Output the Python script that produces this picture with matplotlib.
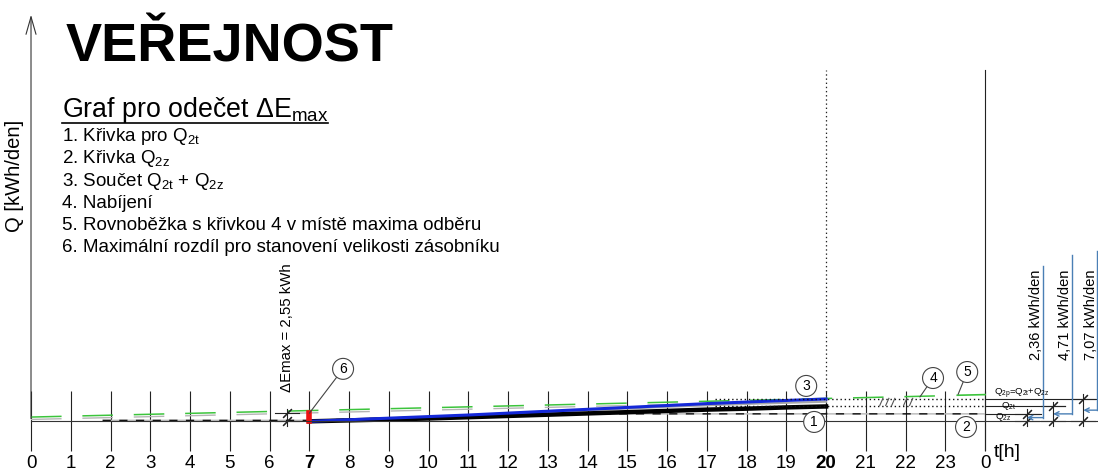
import matplotlib
matplotlib.use('Agg')
import matplotlib.pyplot as plt
from matplotlib.lines import Line2D

plt.rcParams['font.family'] = ['Liberation Sans', 'DejaVu Sans']
plt.rcParams['mathtext.fontset'] = 'custom'
plt.rcParams['mathtext.rm'] = 'Liberation Sans'
plt.rcParams['mathtext.it'] = 'Liberation Sans:italic'
plt.rcParams['mathtext.bf'] = 'Liberation Sans:bold'
plt.rcParams['lines.scale_dashes'] = False

# Hours of the day on the time axis
hours = list(range(25))
hour_labels = [str(h % 24) for h in hours]
bold_hours = [7, 20]

# Daily energy values [kWh/den]
q2z = 2.36
q2t = 4.71
q2p = 7.07          # Q2p = Q2t + Q2z
delta_e_max = 2.55
t_max = 7           # hour of maximum draw

# 1 - cumulative Q2t
c1_hours = [7, 8, 9, 10, 11, 12, 13, 14, 15, 16, 17, 18, 19, 20]
c1_q = [0, 0.3, 0.6, 0.9, 1.3, 1.7, 2.1, 2.5, 2.9, 3.3, 3.7, 4.0, 4.4, 4.71]
# 3 - sum Q2t + Q2z
c3_q = [0, 0.5, 1.0, 1.5, 2.0, 2.6, 3.2, 3.8, 4.4, 5.0, 5.6, 6.1, 6.6, 7.07]
# thin grey construction line
grey_hours = [12, 14, 16, 18, 20]
grey_q = [2.3, 3.5, 4.6, 5.5, 6.2]
# 2 - Q2z
c2_hours = [1.8, 7, 12.5, 24]
c2_q = [0.3, 0.3, 2.36, 2.36]
# 4 - charging line and its grey copy
c4_hours = [0, 22.8]
c4_q = [1.35, 8.05]
c4b_hours = [0, 17]
c4b_q = [0.6, 5.6]
# 5 - parallel to 4 at the maximum
c5_hours = [23.3, 24]
c5_q = [8.25, 8.45]

dotted_start = 17.2
hatch_hours = [21.35, 21.5, 21.65, 21.95, 22.1]

X0, X1 = -0.78, 26.84
Y0, Y1 = -15.4, 133.3
W, H = 1098, 470

fig = plt.figure(figsize=(W / 100, H / 100), dpi=100)
ax = fig.add_axes([0, 0, 1, 1])
ax.set_xlim(X0, X1)
ax.set_ylim(Y0, Y1)

for s in ['top', 'left', 'right']:
    ax.spines[s].set_visible(False)
ax.spines['bottom'].set_position(('data', 0))
ax.spines['bottom'].set_bounds(0, X1)
ax.spines['bottom'].set_linewidth(0.8)
ax.spines['bottom'].set_color('#333333')
ax.set_yticks([])
ax.set_xticks(hours)
ax.set_xticklabels(hour_labels)
ax.tick_params(axis='x', direction='inout', length=43, width=0.8,
               color='#222222', pad=2.5, labelsize=13.5)
for h, lbl in zip(hours, ax.get_xticklabels()):
    if h in bold_hours:
        lbl.set_fontweight('bold')

# axes: Q arrow, end-of-day line, dotted line at 20 h
ax.annotate('', xy=(0, 129.5), xytext=(0, 0),
            arrowprops=dict(arrowstyle='->,head_length=0.7,head_width=0.2',
                            lw=0.8, color='#333333', mutation_scale=18))
ax.plot([24, 24], [-9, 111.2], color='#222222', lw=0.8)
ax.plot([20, 20], [0, 111.2], color='#222222', lw=0.9, ls=(0, (1, 2)))

# curves
ax.plot(c4b_hours, c4b_q, color='#b5b5b5', lw=1.0, dashes=(22, 15))
ax.plot(c4_hours, c4_q, color='#3cc43c', lw=1.1, dashes=(22, 15))
ax.plot(c5_hours, c5_q, color='#3cc43c', lw=1.2)
ax.plot(c2_hours, c2_q, color='#111111', lw=1.1, dashes=(6, 6),
        gapcolor='#bdbdbd')
ax.plot(grey_hours, grey_q, color='#a8a8a8', lw=1.5)
ax.plot(c1_hours, c1_q, color='black', lw=3.2)
ax.plot(c1_hours, c3_q, color='#1428d8', lw=2.2)

# dotted level lines for Q2p and Q2t
ax.plot([dotted_start, 24], [q2p, q2p], color='#111111', lw=1.0, ls=(0, (1, 2)))
ax.plot([dotted_start, 24], [q2t, q2t], color='#111111', lw=1.0, ls=(0, (1, 2)))
for hx in hatch_hours:
    ax.plot([hx, hx + 0.08], [q2t + 0.3, q2p + 0.2], color='#555555', lw=0.8)

# maximum difference at 7 h
ax.plot([t_max, t_max], [0, delta_e_max], color='#ee1111', lw=4,
        solid_capstyle='projecting')

# dimension marks
def dimension(x, top, half=0.3):
    ax.plot([x, x], [-1.5, top + 1.5], color='#222222', lw=0.8)
    for y in (0, top):
        ax.plot([x - half, x + half], [y, y], color='#222222', lw=0.8)
        ax.plot([x], [y], marker=(2, 2, -45), ms=9, mew=0.8, color='#222222')

dimension(6.44, delta_e_max)
ax.plot([24, 25.4], [q2z, q2z], color='#222222', lw=0.8)
ax.plot([24, 26.0], [q2t, q2t], color='#222222', lw=0.8)
ax.plot([24, X1], [q2p, q2p], color='#222222', lw=0.8)
dimension(25.05, q2z)
dimension(25.71, q2t)
dimension(26.47, q2p)

# blue leaders with values
blue = '#4a7fb5'
fmt = lambda v: f'{v:.2f}'.replace('.', ',')
for xl, xd, top, v, xt in [(25.46, 25.05, 49.1, q2z, 25.28),
                           (26.19, 25.71, 52.6, q2t, 26.01),
                           (26.82, 26.47, 54.0, q2p, 26.66)]:
    ax.plot([xl, xl], [top, v / 2], color=blue, lw=1.0)
    ax.annotate('', xy=(xd, v / 2), xytext=(xl, v / 2),
                arrowprops=dict(arrowstyle='->', color=blue, lw=1.0,
                                shrinkA=0, shrinkB=0, mutation_scale=8))
    ax.text(xt, 19.4, f'{fmt(v)} kWh/den', rotation=90, ha='center',
            va='bottom', fontsize=10.5)

ax.text(6.44, 9.3, f'ΔEmax = {fmt(delta_e_max)} kWh', rotation=90,
        ha='center', va='bottom', fontsize=10.8)

# labels of the level lines
ax.text(24.22, q2p + 1.5, r'$\mathrm{Q_{2p}}$=$\mathrm{Q_{2t}}$+$\mathrm{Q_{2z}}$',
        fontsize=6.8, va='center')
ax.text(24.4, q2t + 0.2, r'$\mathrm{Q_{2t}}$', fontsize=6.8, va='center')
ax.text(24.25, q2z - 0.9, r'$\mathrm{Q_{2z}}$', fontsize=6.8, va='center')

# numbered circles
circles = [('6', (7.85, 16.6), (t_max, delta_e_max)),
           ('3', (19.5, 11.2), None),
           ('1', (19.7, -0.2), None),
           ('4', (22.69, 13.7), (22.36, 7.7)),
           ('5', (23.55, 15.6), (23.32, 8.5)),
           ('2', (23.52, -1.8), None)]
for num, pos, target in circles:
    box = dict(boxstyle='circle,pad=0.25', fc='white', ec='#444444', lw=0.8)
    if target is None:
        ax.text(*pos, num, fontsize=10, ha='center', va='center', bbox=box)
    else:
        ax.annotate(num, xy=target, xytext=pos, fontsize=10, ha='center',
                    va='center', bbox=box,
                    arrowprops=dict(arrowstyle='-', color='#444444', lw=0.8,
                                    shrinkA=0, shrinkB=0))

# texts
fig.text(66 / W, 1 - 62 / H, 'VEŘEJNOST', fontsize=39, fontweight='bold',
         va='baseline')
fig.text(62 / W, 1 - 117 / H, r'Graf pro odečet Δ$\mathrm{E_{max}}$',
         fontsize=19.3, va='baseline')
fig.add_artist(Line2D([62 / W, 328 / W], [1 - 123 / H, 1 - 123 / H],
                      color='black', lw=1.2))
items = ['1. Křivka pro $\\mathrm{Q_{2t}}$',
         '2. Křivka $\\mathrm{Q_{2z}}$',
         '3. Součet $\\mathrm{Q_{2t}}$ + $\\mathrm{Q_{2z}}$',
         '4. Nabíjení',
         '5. Rovnoběžka s křivkou 4 v místě maxima odběru',
         '6. Maximální rozdíl pro stanovení velikosti zásobníku']
for i, txt in enumerate(items):
    fig.text(62 / W, 1 - (141 + 22.3 * i) / H, txt, fontsize=13.5,
             va='baseline')

fig.text(15 / W, 1 - 176 / H, 'Q [kWh/den]', rotation=90, fontsize=14.5,
         ha='center', va='center')
fig.text(994 / W, 1 - 457 / H, 't[h]', fontsize=14, va='baseline')

fig.savefig('out.png', dpi=100)
